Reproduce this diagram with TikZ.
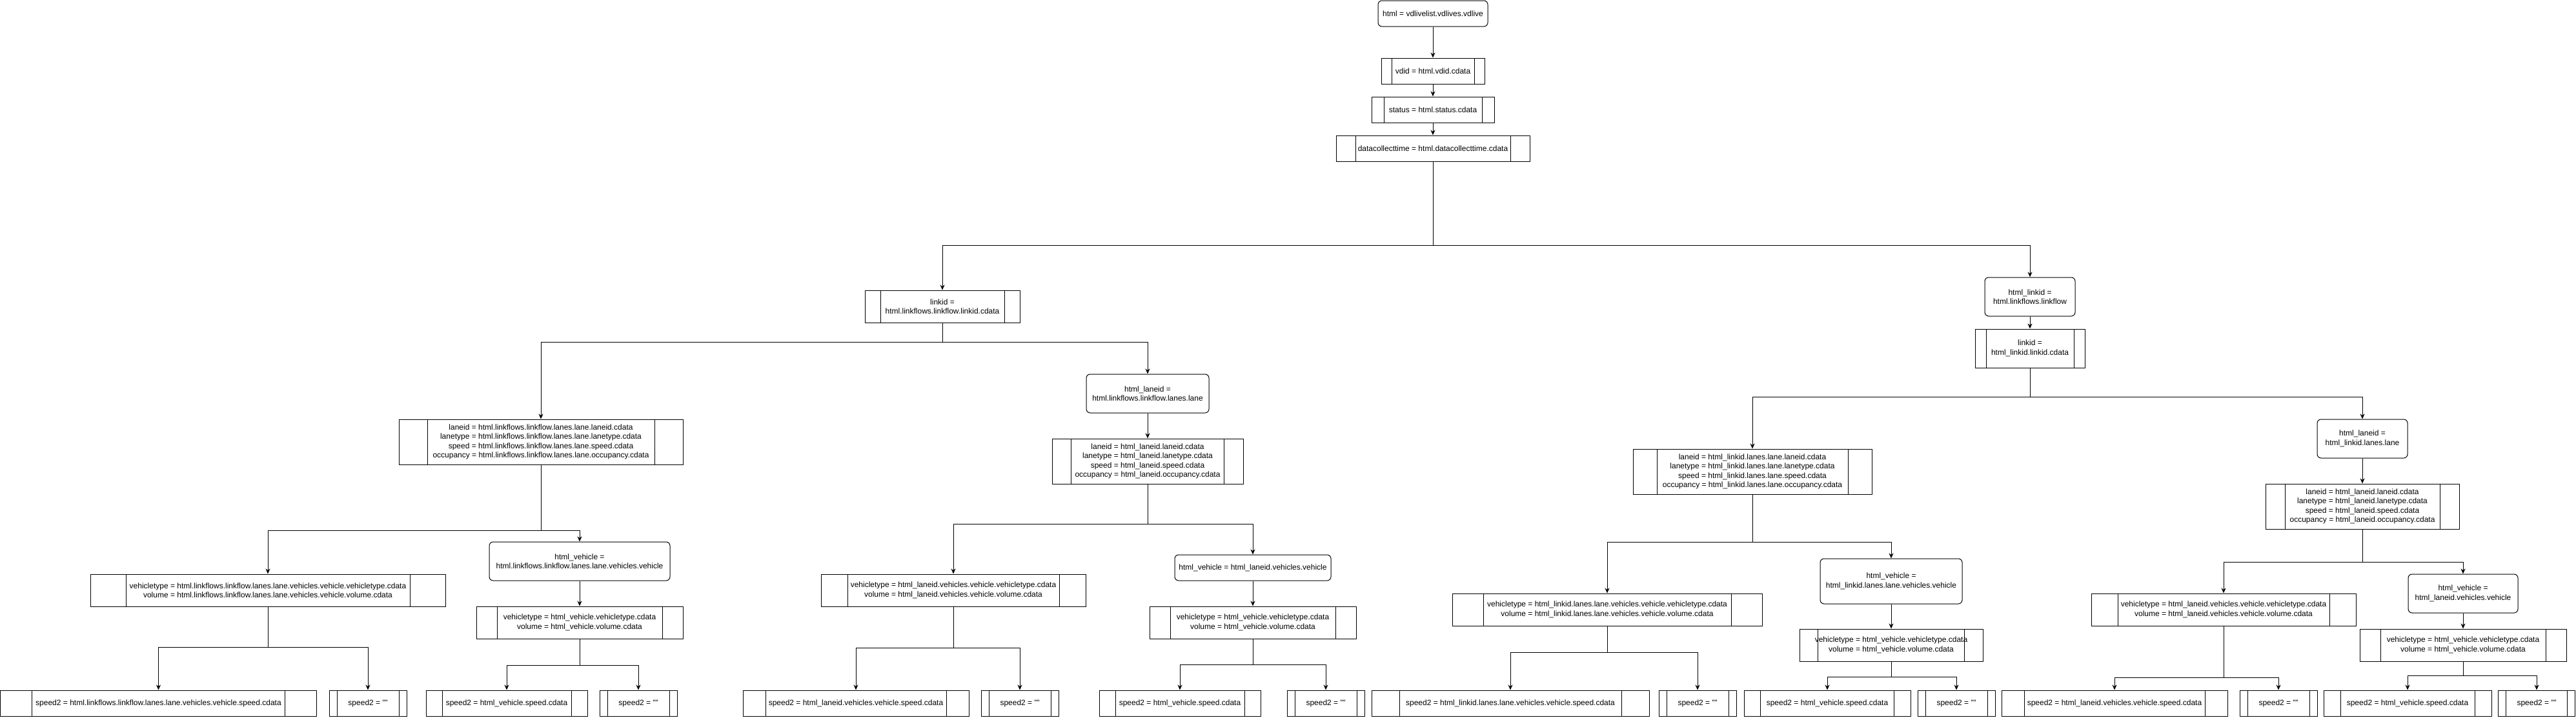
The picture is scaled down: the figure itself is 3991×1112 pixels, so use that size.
\documentclass[tikz,border=0pt]{standalone}
\usepackage{fontspec}
\setmainfont{Liberation Sans}
\usetikzlibrary{calc,arrows.meta}
\tikzset{
  base/.style={draw=black, line width=1pt, align=center, inner sep=2pt,
    font=\fontsize{12}{14.4}\selectfont, text=black, fill=white},
  proc/.style={base, rectangle, path picture={
      \path (path picture bounding box.south west) coordinate (ppa)
            (path picture bounding box.north east) coordinate (ppb);
      \draw[line width=1pt] ($(ppa)!0.1!(ppa-|ppb)$) -- ($(ppa|-ppb)!0.1!(ppb)$);
      \draw[line width=1pt] ($(ppa)!0.9!(ppa-|ppb)$) -- ($(ppa|-ppb)!0.9!(ppb)$);
    }},
  rbox/.style={base, rectangle, rounded corners=6pt},
  arr/.style={draw=black, line width=1pt, -{Stealth[length=8pt,width=7pt,inset=2.5pt]}},
}
\begin{document}
\begin{tikzpicture}[x=1pt,y=-1pt]
\useasboundingbox[fill=white] (0,0) rectangle (3991,1112);

% top chain
\node[rbox, minimum width=170pt, minimum height=40pt] (root) at (2220,21) {html = vdlivelist.vdlives.vdlive};
\node[proc, minimum width=160pt, minimum height=40pt] (vdid) at (2220,110) {vdid = html.vdid.cdata};
\node[proc, minimum width=190pt, minimum height=40pt] (status) at (2220,170) {status = html.status.cdata};
\node[proc, minimum width=300pt, minimum height=40pt] (dct) at (2220,230) {datacollecttime = html.datacollecttime.cdata};

% second level
\node[proc, minimum width=240pt, minimum height=50pt] (linkid) at (1460,475) {linkid =\\html.linkflows.linkflow.linkid.cdata};
\node[rbox, minimum width=140pt, minimum height=60pt] (hlinkid) at (3145,460) {html\_linkid =\\html.linkflows.linkflow};
\node[proc, minimum width=170pt, minimum height=60pt] (linkid2) at (3145,540) {linkid =\\html\_linkid.linkid.cdata};

% lane level
\node[proc, minimum width=440pt, minimum height=70pt] (laneid1) at (838,685) {laneid = html.linkflows.linkflow.lanes.lane.laneid.cdata\\lanetype = html.linkflows.linkflow.lanes.lane.lanetype.cdata\\speed = html.linkflows.linkflow.lanes.lane.speed.cdata\\occupancy = html.linkflows.linkflow.lanes.lane.occupancy.cdata};
\node[rbox, minimum width=190pt, minimum height=60pt] (hlaneid1) at (1778,610) {html\_laneid =\\html.linkflows.linkflow.lanes.lane};
\node[proc, minimum width=296pt, minimum height=70pt] (laneidb) at (1778,715) {laneid = html\_laneid.laneid.cdata\\lanetype = html\_laneid.lanetype.cdata\\speed = html\_laneid.speed.cdata\\occupancy = html\_laneid.occupancy.cdata};
\node[proc, minimum width=370pt, minimum height=70pt] (laneidc) at (2715,731) {laneid = html\_linkid.lanes.lane.laneid.cdata\\lanetype = html\_linkid.lanes.lane.lanetype.cdata\\speed = html\_linkid.lanes.lane.speed.cdata\\occupancy = html\_linkid.lanes.lane.occupancy.cdata};
\node[rbox, minimum width=140pt, minimum height=60pt] (hlaneid2) at (3660,680) {html\_laneid =\\html\_linkid.lanes.lane};
\node[proc, minimum width=300pt, minimum height=70pt] (laneidd) at (3660,785) {laneid = html\_laneid.laneid.cdata\\lanetype = html\_laneid.lanetype.cdata\\speed = html\_laneid.speed.cdata\\occupancy = html\_laneid.occupancy.cdata};

% vehicle level
\node[proc, minimum width=550pt, minimum height=50pt] (vt1) at (415,915) {vehicletype = html.linkflows.linkflow.lanes.lane.vehicles.vehicle.vehicletype.cdata\\volume = html.linkflows.linkflow.lanes.lane.vehicles.vehicle.volume.cdata};
\node[rbox, minimum width=280pt, minimum height=60pt] (hv1) at (898,870) {html\_vehicle =\\html.linkflows.linkflow.lanes.lane.vehicles.vehicle};
\node[proc, minimum width=320pt, minimum height=50pt] (vtb) at (898,965) {vehicletype = html\_vehicle.vehicletype.cdata\\volume = html\_vehicle.volume.cdata};
\node[proc, minimum width=410pt, minimum height=50pt] (vtc) at (1477,915) {vehicletype = html\_laneid.vehicles.vehicle.vehicletype.cdata\\volume = html\_laneid.vehicles.vehicle.volume.cdata};
\node[rbox, minimum width=242pt, minimum height=40pt] (hvc) at (1941,880) {html\_vehicle = html\_laneid.vehicles.vehicle};
\node[proc, minimum width=320pt, minimum height=50pt] (vtd) at (1941,965) {vehicletype = html\_vehicle.vehicletype.cdata\\volume = html\_vehicle.volume.cdata};
\node[proc, minimum width=480pt, minimum height=50pt] (vte) at (2490,945) {vehicletype = html\_linkid.lanes.lane.vehicles.vehicle.vehicletype.cdata\\volume = html\_linkid.lanes.lane.vehicles.vehicle.volume.cdata};
\node[rbox, minimum width=220pt, minimum height=70pt] (hve) at (2930,901) {html\_vehicle =\\html\_linkid.lanes.lane.vehicles.vehicle};
\node[proc, minimum width=284pt, minimum height=50pt] (vtf) at (2930,1000) {vehicletype = html\_vehicle.vehicletype.cdata\\volume = html\_vehicle.volume.cdata};
\node[proc, minimum width=410pt, minimum height=50pt] (vtg) at (3445,945) {vehicletype = html\_laneid.vehicles.vehicle.vehicletype.cdata\\volume = html\_laneid.vehicles.vehicle.volume.cdata};
\node[rbox, minimum width=170pt, minimum height=60pt] (hvg) at (3816,920) {html\_vehicle =\\html\_laneid.vehicles.vehicle};
\node[proc, minimum width=320pt, minimum height=50pt] (vth) at (3816,1000) {vehicletype = html\_vehicle.vehicletype.cdata\\volume = html\_vehicle.volume.cdata};

% speed level
\node[proc, minimum width=490pt, minimum height=40pt] (s1) at (245.5,1090) {speed2 = html.linkflows.linkflow.lanes.lane.vehicles.vehicle.speed.cdata};
\node[proc, minimum width=120pt, minimum height=40pt] (s1e) at (570,1090) {speed2 = ""};
\node[proc, minimum width=250pt, minimum height=40pt] (s2) at (785,1090) {speed2 = html\_vehicle.speed.cdata};
\node[proc, minimum width=120pt, minimum height=40pt] (s2e) at (989,1090) {speed2 = ""};
\node[proc, minimum width=350pt, minimum height=40pt] (s3) at (1326,1090) {speed2 = html\_laneid.vehicles.vehicle.speed.cdata};
\node[proc, minimum width=120pt, minimum height=40pt] (s3e) at (1580,1090) {speed2 = ""};
\node[proc, minimum width=250pt, minimum height=40pt] (s4) at (1828,1090) {speed2 = html\_vehicle.speed.cdata};
\node[proc, minimum width=120pt, minimum height=40pt] (s4e) at (2054,1090) {speed2 = ""};
\node[proc, minimum width=430pt, minimum height=40pt] (s5) at (2340,1090) {speed2 = html\_linkid.lanes.lane.vehicles.vehicle.speed.cdata};
\node[proc, minimum width=120pt, minimum height=40pt] (s5e) at (2630,1090) {speed2 = ""};
\node[proc, minimum width=258pt, minimum height=40pt] (s6) at (2831,1090) {speed2 = html\_vehicle.speed.cdata};
\node[proc, minimum width=120pt, minimum height=40pt] (s6e) at (3031,1090) {speed2 = ""};
\node[proc, minimum width=350pt, minimum height=40pt] (s7) at (3276,1090) {speed2 = html\_laneid.vehicles.vehicle.speed.cdata};
\node[proc, minimum width=120pt, minimum height=40pt] (s7e) at (3530,1090) {speed2 = ""};
\node[proc, minimum width=260pt, minimum height=40pt] (s8) at (3730,1090) {speed2 = html\_vehicle.speed.cdata};
\node[proc, minimum width=119pt, minimum height=40pt] (s8e) at (3930,1090) {speed2 = ""};

% connectors
\draw[arr] (root.south) -- (vdid.north);
\draw[arr] (vdid.south) -- (status.north);
\draw[arr] (status.south) -- (dct.north);
\draw[arr] (dct.south) -- ++(0,130) -| (linkid.north);
\draw[arr] (dct.south) -- ++(0,130) -| (hlinkid.north);
\draw[arr] (linkid.south) -- ++(0,30) -| (laneid1.north);
\draw[arr] (linkid.south) -- ++(0,30) -| (hlaneid1.north);
\draw[arr] (hlaneid1.south) -- (laneidb.north);
\draw[arr] (hlinkid.south) -- (linkid2.north);
\draw[arr] (linkid2.south) -- ++(0,45) -| (laneidc.north);
\draw[arr] (linkid2.south) -- ++(0,45) -| (hlaneid2.north);
\draw[arr] (hlaneid2.south) -- (laneidd.north);

\draw[arr] (laneid1.south) -- ++(0,102) -| (vt1.north);
\draw[arr] (laneid1.south) -- ++(0,102) -| (hv1.north);
\draw[arr] (hv1.south) -- (vtb.north);
\draw[arr] (laneidb.south) -- ++(0,62) -| (vtc.north);
\draw[arr] (laneidb.south) -- ++(0,62) -| (hvc.north);
\draw[arr] (hvc.south) -- (vtd.north);
\draw[arr] (laneidc.south) -- ++(0,74) -| (vte.north);
\draw[arr] (laneidc.south) -- ++(0,74) -| (hve.north);
\draw[arr] (hve.south) -- (vtf.north);
\draw[arr] (laneidd.south) -- ++(0,51) -| (vtg.north);
\draw[arr] (laneidd.south) -- ++(0,51) -| (hvg.north);
\draw[arr] (hvg.south) -- (vth.north);

\draw[arr] (vt1.south) -- ++(0,63) -| (s1.north);
\draw[arr] (vt1.south) -- ++(0,63) -| (s1e.north);
\draw[arr] (vtb.south) -- ++(0,41) -| (s2.north);
\draw[arr] (vtb.south) -- ++(0,41) -| (s2e.north);
\draw[arr] (vtc.south) -- ++(0,64) -| (s3.north);
\draw[arr] (vtc.south) -- ++(0,64) -| (s3e.north);
\draw[arr] (vtd.south) -- ++(0,40) -| (s4.north);
\draw[arr] (vtd.south) -- ++(0,40) -| (s4e.north);
\draw[arr] (vte.south) -- ++(0,41) -| (s5.north);
\draw[arr] (vte.south) -- ++(0,41) -| (s5e.north);
\draw[arr] (vtf.south) -- ++(0,24) -| (s6.north);
\draw[arr] (vtf.south) -- ++(0,24) -| (s6e.north);
\draw[arr] (vtg.south) -- ++(0,80) -| (s7.north);
\draw[arr] (vtg.south) -- ++(0,80) -| (s7e.north);
\draw[arr] (vth.south) -- ++(0,22) -| (s8.north);
\draw[arr] (vth.south) -- ++(0,22) -| (s8e.north);
\end{tikzpicture}
\end{document}
